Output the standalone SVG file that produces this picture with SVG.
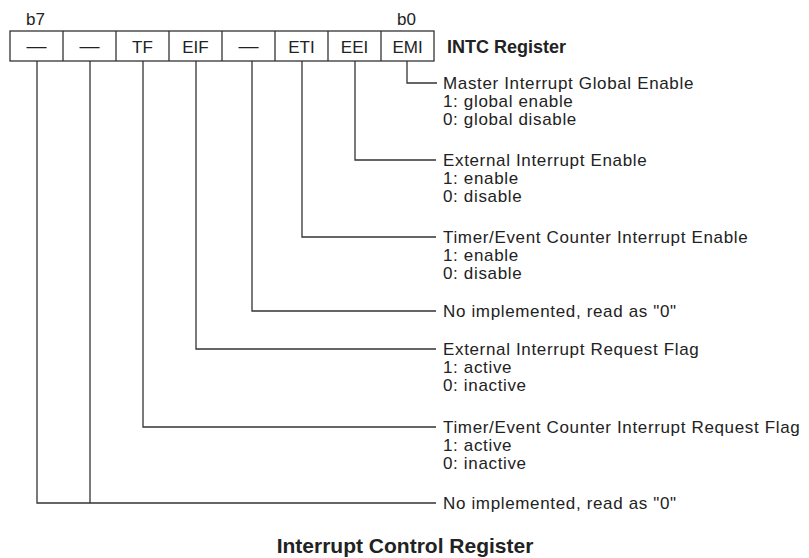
<svg xmlns="http://www.w3.org/2000/svg" width="809" height="558" viewBox="0 0 809 558">
<style>
  .ln { fill: none; stroke: #333; stroke-width: 1.3; }
  .t { font-family: "Liberation Sans", Arial, sans-serif; font-size: 17px; fill: #222; letter-spacing: 0.65px; }
  .c { font-family: "Liberation Sans", Arial, sans-serif; font-size: 17px; fill: #222; text-anchor: middle; }
  .d { font-family: "Liberation Sans", Arial, sans-serif; font-size: 20px; fill: #222; text-anchor: middle; }
  .b { font-family: "Liberation Sans", Arial, sans-serif; font-weight: bold; fill: #222; }
</style>
<rect width="809" height="558" fill="#fff"/>

<g id="register">
  <rect class="ln" x="10" y="31" width="424" height="30"/>
  <path class="ln" d="M63 31V61M116 31V61M169 31V61M222 31V61M275 31V61M328 31V61M381 31V61"/>
  <text class="t" x="26" y="25" style="letter-spacing:0">b7</text>
  <text class="t" x="397" y="25" style="letter-spacing:0">b0</text>
  <text class="b" x="447" y="53" font-size="18">INTC Register</text>
</g>

<g id="bit7"><text class="d" x="36.5" y="53">—</text></g>
<g id="bit6"><text class="d" x="89.5" y="53">—</text></g>
<g id="bit5"><text class="c" x="142.5" y="53">TF</text></g>
<g id="bit4"><text class="c" x="195.5" y="53">EIF</text></g>
<g id="bit3"><text class="d" x="248.5" y="53">—</text></g>
<g id="bit2"><text class="c" x="301.5" y="53">ETI</text></g>
<g id="bit1"><text class="c" x="354.5" y="53">EEI</text></g>
<g id="bit0"><text class="c" x="407.5" y="53">EMI</text></g>

<g id="connectors">
  <path class="ln" d="M407 61V83H437"/>
  <path class="ln" d="M355 61V160H436"/>
  <path class="ln" d="M302 61V237H436"/>
  <path class="ln" d="M252 61V311H436"/>
  <path class="ln" d="M196 61V349H436"/>
  <path class="ln" d="M143 61V427H436"/>
  <path class="ln" d="M90 61V503"/>
  <path class="ln" d="M37 61V503H436"/>
</g>

<g id="desc-emi">
  <text class="t" x="443" y="89">Master Interrupt Global Enable</text>
  <text class="t" x="443" y="107">1: global enable</text>
  <text class="t" x="443" y="125">0: global disable</text>
</g>
<g id="desc-eei">
  <text class="t" x="443" y="166">External Interrupt Enable</text>
  <text class="t" x="443" y="184">1: enable</text>
  <text class="t" x="443" y="202">0: disable</text>
</g>
<g id="desc-eti">
  <text class="t" x="443" y="243">Timer/Event Counter Interrupt Enable</text>
  <text class="t" x="443" y="261">1: enable</text>
  <text class="t" x="443" y="279">0: disable</text>
</g>
<g id="desc-b3">
  <text class="t" x="443" y="317">No implemented, read as "0"</text>
</g>
<g id="desc-eif">
  <text class="t" x="443" y="355">External Interrupt Request Flag</text>
  <text class="t" x="443" y="373">1: active</text>
  <text class="t" x="443" y="391">0: inactive</text>
</g>
<g id="desc-tf">
  <text class="t" x="443" y="433">Timer/Event Counter Interrupt Request Flag</text>
  <text class="t" x="443" y="451">1: active</text>
  <text class="t" x="443" y="469">0: inactive</text>
</g>
<g id="desc-b76">
  <text class="t" x="443" y="509">No implemented, read as "0"</text>
</g>

<g id="title">
  <text class="b" x="405" y="553" font-size="21" text-anchor="middle">Interrupt Control Register</text>
</g>
</svg>
